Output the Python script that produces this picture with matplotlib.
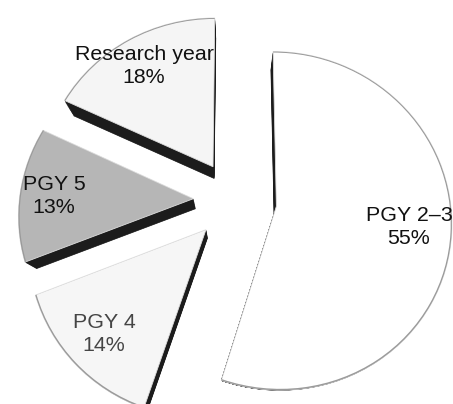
import numpy as np
import matplotlib
matplotlib.use('Agg')
import matplotlib.pyplot as plt
from matplotlib.transforms import Affine2D, Transform

labels = ['PGY 2–3', 'PGY 4', 'PGY 5', 'Research year']
shares = [55, 14, 13, 18]
face_colors = ['#ffffff', '#f6f6f6', '#b6b6b6', '#f5f5f5']
text_colors = ['#111111', '#454545', '#111111', '#111111']

plt.rcParams['font.family'] = ['Liberation Sans', 'DejaVu Sans']


class Perspective(Transform):
    # flat pie coords -> picture pixels, the pie is tilted a bit
    input_dims = 2
    output_dims = 2
    is_separable = False
    has_inverse = False

    def transform_non_affine(self, values):
        x, y = np.asarray(values).T
        w = 1 + 0.086 * y
        return np.column_stack([235 + 174 * x / w, 200 - 167 * y / w])


fig = plt.figure(figsize=(4.53, 4.04), dpi=100)
ax = fig.add_axes([0, 0, 1, 1])
persp = Perspective()
explode = [0.24] * len(shares)

# dark side of the slices: same pie pulled towards a vanishing point, in layers
for scale in np.linspace(0.945, 0.995, 14):
    side = Affine2D().translate(-234, -380).scale(scale).translate(234, 380)
    dark, _ = ax.pie(shares, explode=explode, startangle=90, counterclock=False,
                     colors=['#1c1c1c'] * len(shares),
                     wedgeprops={'edgecolor': '#1c1c1c', 'linewidth': 0.5})
    for w in dark:
        w.set_transform(persp + side + ax.transData)
        w.set_zorder(1)

top, _ = ax.pie(shares, explode=explode, startangle=90, counterclock=False,
                colors=face_colors,
                wedgeprops={'edgecolor': '#dedede', 'linewidth': 0.6})
for w in top:
    w.set_transform(persp + ax.transData)
    w.set_zorder(2)

# thin grey rim on the round edge only
rim, _ = ax.pie(shares, explode=explode, startangle=90, counterclock=False,
                colors=['#9a9a9a'] * len(shares),
                wedgeprops={'width': 0.007, 'linewidth': 0})
for w in rim:
    w.set_transform(persp + ax.transData)
    w.set_zorder(2.5)

ax.set_aspect('auto')
ax.set_xlim(0, 453)
ax.set_ylim(404, 0)
ax.axis('off')

label_xy = [(409, 227), (104, 334), (54, 196), (144, 66)]
for name, share, col, (tx, ty) in zip(labels, shares, text_colors, label_xy):
    ax.text(tx, ty, '%s\n%d%%' % (name, share), color=col, fontsize=15.4,
            ha='center', va='center', linespacing=1.3, zorder=3)

fig.savefig('out.png', dpi=100)
